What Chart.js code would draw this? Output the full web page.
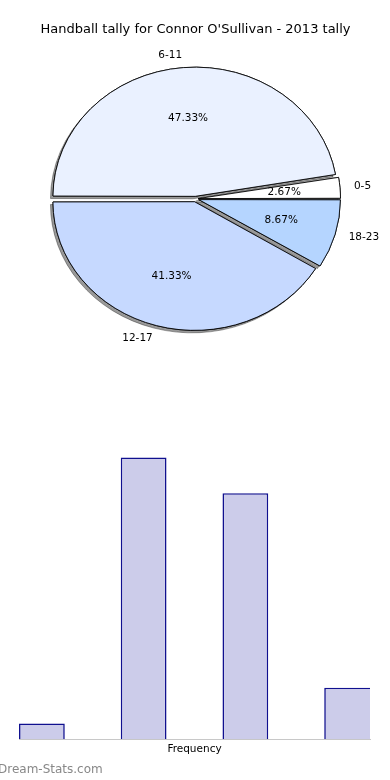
<!DOCTYPE html>
<html lang="en">
<head>
<meta charset="UTF-8">
<meta name="viewport" content="width=device-width, initial-scale=1.0">
<title>Handball tally for Connor O'Sullivan - 2013 tally</title>
<script src="https://cdn.jsdelivr.net/npm/chart.js"></script>
<style>
    body { margin: 0; background: #fff; font-family: "DejaVu Sans", sans-serif; }
    .wrap { position: relative; width: 390px; height: 780px; overflow: hidden; }
    #pieChart { position: absolute; left: 0; top: 0; }
    #barChart { position: absolute; left: 0; top: 400px; }
    .brand { position: absolute; left: -2px; top: 762px; font-size: 12px; color: #888; }
</style>
</head>
<body>

<div class="wrap">
    <canvas id="pieChart" width="390" height="358"></canvas>
    <canvas id="barChart" width="390" height="380"></canvas>
    <div class="brand">Dream-Stats.com</div>
</div>

<script>
    const categories = ['0-5', '6-11', '12-17', '18-23'];
    const tally = [4, 71, 62, 13];
    const sliceColors = ['#ffffff', '#eaf1ff', '#c6d9ff', '#b5d5ff'];

    const SQUASH = 0.908;   // pie is drawn as an ellipse
    const EXPLODE = 5;      // px every slice is pulled out
    const BAR_WIDTH = 0.45;

    Chart.defaults.font.family = '"DejaVu Sans", sans-serif';
    Chart.defaults.color = '#000';

    const total = tally.reduce((a, b) => a + b, 0);
    // chart.js goes clockwise from the top, the original went counter-clockwise from 3 o'clock
    const order = categories.map((_, i) => i).reverse();

    const pieShape = {
        id: 'pieShape',
        beforeDatasetsDraw(chart) {
            const ctx = chart.ctx;
            const arcs = chart.getDatasetMeta(0).data;
            const cx = arcs[0].x, cy = arcs[0].y;
            ctx.save();
            ctx.translate(cx, cy);
            ctx.scale(1, SQUASH);
            ctx.translate(-cx, -cy);
            // shadows first, under every slice
            ctx.save();
            ctx.shadowColor = 'rgba(0,0,0,0.4)';
            ctx.shadowOffsetX = -2.5;
            ctx.shadowOffsetY = 2.5;
            arcs.forEach(a => a.draw(ctx));
            ctx.restore();
        },
        afterDatasetsDraw(chart) {
            const ctx = chart.ctx;
            ctx.restore();
            const arcs = chart.getDatasetMeta(0).data;
            ctx.save();
            ctx.font = '10.5px "DejaVu Sans"';
            ctx.fillStyle = '#000';
            ctx.textBaseline = 'middle';
            arcs.forEach((a, i) => {
                const p = a.getProps(['x', 'y', 'startAngle', 'endAngle', 'outerRadius'], true);
                const mid = (p.startAngle + p.endAngle) / 2;
                const c = Math.cos(mid), s = Math.sin(mid);
                const idx = order[i];
                const r1 = p.outerRadius * 1.1 + EXPLODE;
                ctx.textAlign = c >= 0 ? 'left' : 'right';
                ctx.fillText(categories[idx], p.x + c * r1, p.y + s * r1 * SQUASH);
                const r2 = p.outerRadius * 0.6 + EXPLODE;
                ctx.textAlign = 'center';
                ctx.fillText((tally[idx] / total * 100).toFixed(2) + '%', p.x + c * r2, p.y + s * r2 * SQUASH);
            });
            ctx.restore();
        }
    };

    new Chart(document.getElementById('pieChart'), {
        type: 'pie',
        data: {
            labels: order.map(i => categories[i]),
            datasets: [{
                data: order.map(i => tally[i]),
                backgroundColor: order.map(i => sliceColors[i]),
                borderColor: '#000',
                borderWidth: 0.9,
                // chart.js adds extra push to wide slices, cancel it so all move the same
                offset: c => {
                    const circ = c.raw / total * 2 * Math.PI;
                    return 4 * EXPLODE / (2 - Math.sin(Math.min(Math.PI, circ)));
                }
            }]
        },
        options: {
            responsive: false,
            animation: false,
            events: [],
            rotation: 90,
            radius: 140,
            layout: { padding: { left: 1 } },
            plugins: {
                legend: { display: false },
                tooltip: { enabled: false },
                title: {
                    display: true,
                    text: "Handball tally for Connor O'Sullivan - 2013 tally",
                    font: { size: 13, weight: 'normal' },
                    color: '#000',
                    padding: { top: 22, bottom: 2 }
                }
            }
        },
        plugins: [pieShape]
    });

    new Chart(document.getElementById('barChart'), {
        type: 'bar',
        data: {
            datasets: [{
                data: tally.map((v, i) => ({ x: i + BAR_WIDTH / 2, y: v })),
                backgroundColor: '#ccccea',
                borderColor: '#10108f',
                borderWidth: c => c.dataIndex === tally.length - 1
                    ? { left: 1.6, top: 1.6, right: 0, bottom: 0 } : 1.6,
                borderSkipped: 'start',
                barPercentage: BAR_WIDTH,
                categoryPercentage: 1,
                clip: 0
            }]
        },
        options: {
            responsive: false,
            animation: false,
            events: [],
            layout: { padding: { left: 19, right: 20, top: 21.7, bottom: 24.7 } },
            plugins: {
                legend: { display: false },
                tooltip: { enabled: false }
            },
            scales: {
                x: {
                    type: 'linear',
                    offset: false,
                    min: 0,
                    max: tally.length - 1 + BAR_WIDTH,
                    // keep only whole-number ticks so bar width is based on a 1-unit step
                    afterBuildTicks: scale => {
                        scale.ticks = scale.ticks.filter(t => Number.isInteger(t.value));
                    },
                    ticks: { display: false, stepSize: 1 },
                    grid: { display: false, drawTicks: false },
                    border: { display: true, color: '#c8c8c8', dash: [1, 3] },
                    title: {
                        display: true,
                        text: 'Frequency',
                        font: { size: 10.5 },
                        color: '#000',
                        padding: { top: 3.4, bottom: 0 }
                    }
                },
                y: { display: false, min: 0, max: 80 }
            }
        }
    });
</script>

</body>
</html>
